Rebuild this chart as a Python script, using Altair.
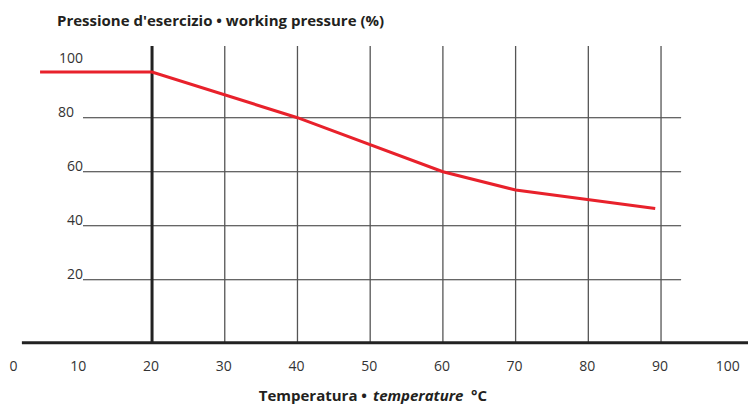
import altair as alt
import pandas as pd

# ---- data ----
temps = [4.6, 20, 40, 60, 70, 89.2]          # °C
pressures = [96.9, 96.9, 80, 60, 53.2, 46.4]  # % working pressure

x_ticks = [0, 10, 20, 30, 40, 50, 60, 70, 80, 90, 100]
y_ticks = [20, 40, 60, 80, 100]
y_grid = [20, 40, 60, 80]
x_grid = [30, 40, 50, 60, 70, 80, 90]
x_ref = [20]

title_top = "Pressione d'esercizio • working pressure (%)"
title_x_a = "Temperatura •"
title_x_b = "temperature"
title_x_c = "°C"

W, H = 740, 398
FONT = "Open Sans"
xs = alt.Scale(domain=[0.19, 101.96], nice=False, zero=False)
ys = alt.Scale(domain=[-26.78, 120.63], nice=False, zero=False)

line_df = pd.DataFrame({"t": temps, "p": pressures})
xg_df = pd.DataFrame({"t": x_grid})
xr_df = pd.DataFrame({"t": x_ref})
yg_df = pd.DataFrame({"p": y_grid})
xt_df = pd.DataFrame({"t": x_ticks, "lab": [str(v) for v in x_ticks]})
yt_df = pd.DataFrame({"p": y_ticks, "lab": [str(v) for v in y_ticks]})

hgrid = alt.Chart(yg_df).mark_rule(color="#333333", strokeWidth=1.1).encode(
    y=alt.Y("p:Q", scale=ys, axis=None),
    x=alt.XDatum(10.5, type="quantitative", scale=xs, axis=None),
    x2=alt.X2Datum(92.76),
)

vgrid = alt.Chart(xg_df).mark_rule(color="#555555", strokeWidth=1.3).encode(
    x=alt.X("t:Q", scale=xs, axis=None),
    y=alt.YDatum(-3.33, type="quantitative", scale=ys, axis=None),
    y2=alt.Y2Datum(106.6),
)

vref = alt.Chart(xr_df).mark_rule(color="#222222", strokeWidth=3).encode(
    x=alt.X("t:Q", scale=xs, axis=None),
    y=alt.YDatum(-3.33, type="quantitative", scale=ys, axis=None),
    y2=alt.Y2Datum(106.6),
)

baseline = alt.Chart(xr_df).mark_rule(color="#222222", strokeWidth=3).encode(
    y=alt.YDatum(-3.33, type="quantitative", scale=ys, axis=None),
    x=alt.XDatum(2.1, type="quantitative", scale=xs, axis=None),
    x2=alt.X2Datum(101.96),
)

curve = alt.Chart(line_df).mark_line(color="#e8212b", strokeWidth=3, strokeCap="butt").encode(
    x=alt.X("t:Q", scale=xs, axis=None),
    y=alt.Y("p:Q", scale=ys, axis=None),
)

def xlabels(filt, dx):
    return alt.Chart(xt_df).transform_filter(filt).mark_text(
        font=FONT, fontSize=14, color="#333333", align="center", baseline="middle", dx=dx
    ).encode(
        x=alt.X("t:Q", scale=xs, axis=None),
        y=alt.YDatum(-12.3, type="quantitative", scale=ys, axis=None),
        text="lab:N",
    )

xl_mid = xlabels("datum.t > 0 && datum.t < 100", -1)
xl_first = xlabels("datum.t == 0", 7)
xl_last = xlabels("datum.t == 100", -6)

def ylabels(filt, dx):
    return alt.Chart(yt_df).transform_filter(filt).mark_text(
        font=FONT, fontSize=14, color="#333333", align="right", baseline="alphabetic",
        dy=-1, dx=dx
    ).encode(
        y=alt.Y("p:Q", scale=ys, axis=None),
        x=alt.XDatum(10.5, type="quantitative", scale=xs, axis=None),
        text="lab:N",
    )

yl_main = ylabels("datum.p != 80", 0)
yl_80 = ylabels("datum.p == 80", -9)

def label(txt, x, y, align, style="normal"):
    return alt.Chart(pd.DataFrame({"s": [txt]})).mark_text(
        font=FONT, fontSize=15, fontWeight="bold", fontStyle=style, color="#231f20",
        align=align, baseline="alphabetic"
    ).encode(x=alt.value(x), y=alt.value(y), text="s:N")

t_top = label(title_top, 49, 18, "left")
t_a = label(title_x_a, 359, 393, "right")
t_b = label(title_x_b, 365, 393, "left", "italic")
t_c = label(title_x_c, 463, 393, "left")

chart = alt.layer(
    hgrid, vgrid, vref, baseline, curve, xl_mid, xl_first, xl_last, yl_main, yl_80,
    t_top, t_a, t_b, t_c
).properties(
    width=W, height=H, autosize=alt.AutoSizeParams(type="none"), padding=0
).configure_view(stroke=None)

chart.save("out.html", embed_options={"renderer": "svg", "actions": False})
